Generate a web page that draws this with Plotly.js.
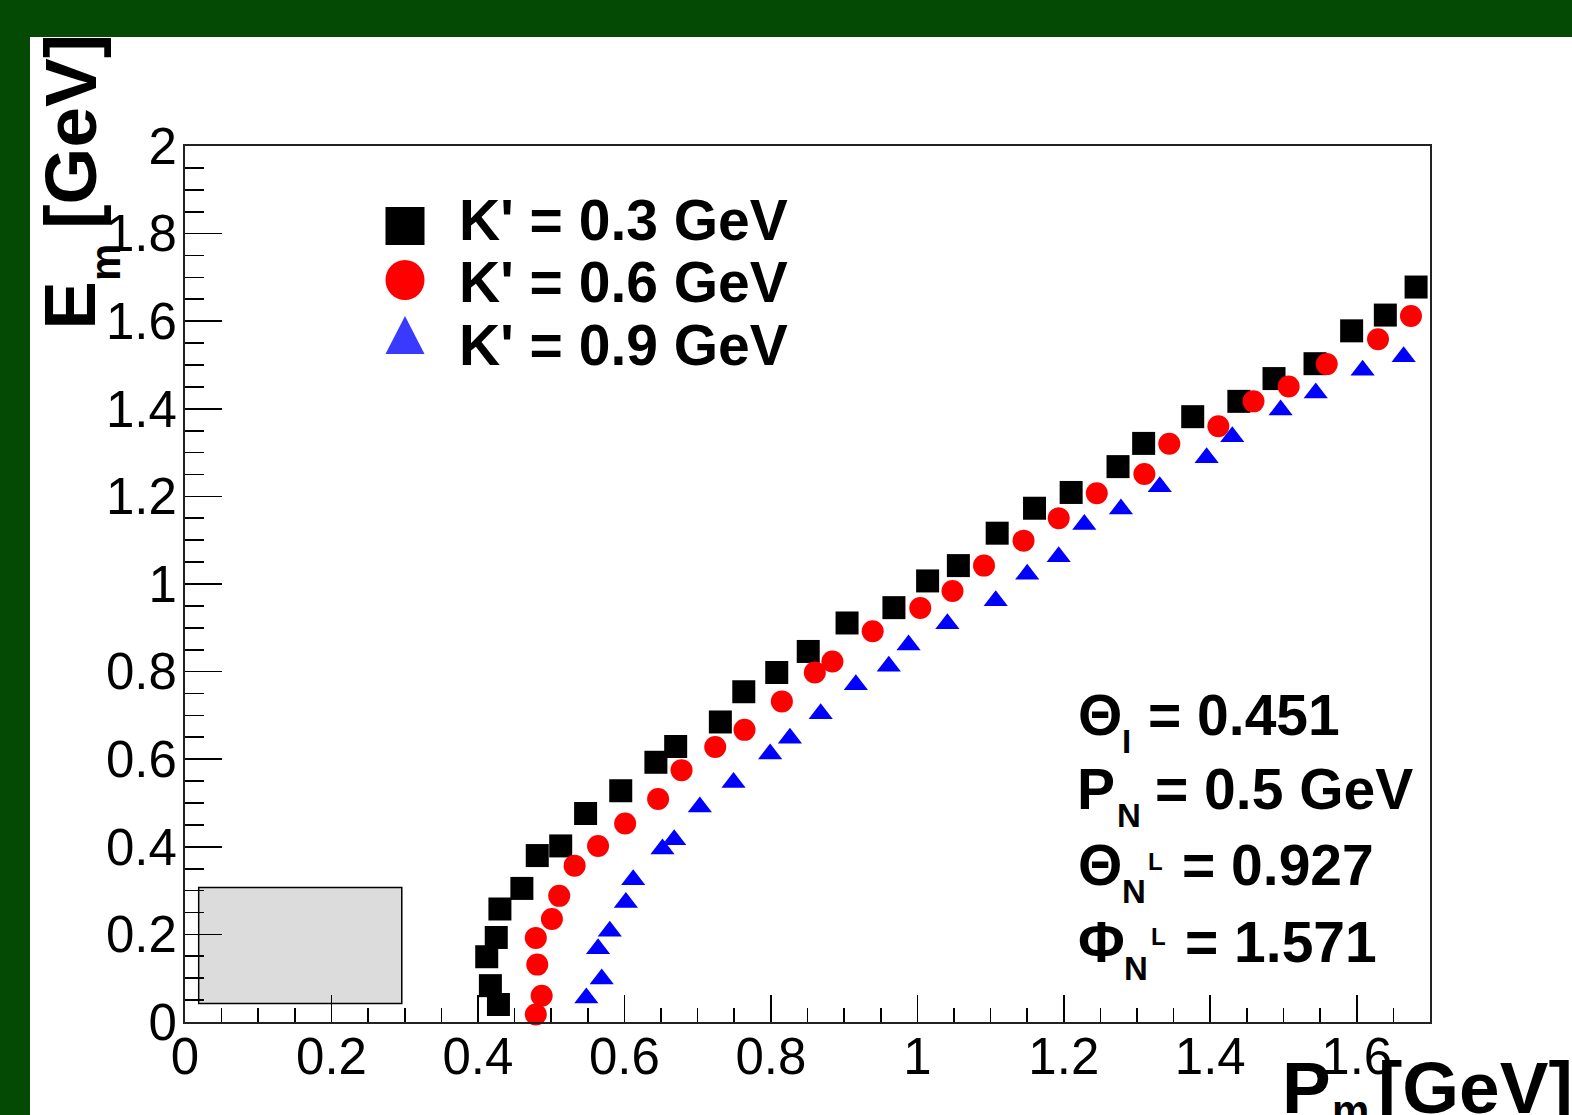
<!DOCTYPE html>
<html>
<head>
<meta charset="utf-8">
<script src="https://cdn.plot.ly/plotly-3.0.1.min.js"></script>
<style>
html,body{margin:0;padding:0;overflow:hidden;background:#044a04;}
#plot{width:1572px;height:1115px;}
</style>
</head>
<body>
<div id="plot"></div>
<script>
// ---------------- data ----------------
const seriesNames = ["K' = 0.3 GeV", "K' = 0.6 GeV", "K' = 0.9 GeV"];

const k03_x = [0.428,0.417,0.412,0.425,0.430,0.460,0.481,0.513,0.547,0.595,0.643,0.670,0.731,0.763,0.808,0.851,0.904,0.968,1.014,1.056,1.109,1.160,1.210,1.274,1.309,1.376,1.439,1.487,1.543,1.593,1.639,1.681];
const k03_y = [0.040,0.083,0.149,0.193,0.258,0.305,0.380,0.402,0.476,0.528,0.593,0.629,0.685,0.754,0.798,0.846,0.911,0.946,1.007,1.042,1.116,1.173,1.209,1.268,1.321,1.382,1.417,1.469,1.503,1.578,1.614,1.678];

const k06_x = [0.479,0.487,0.481,0.479,0.501,0.511,0.532,0.564,0.601,0.646,0.678,0.724,0.764,0.815,0.860,0.884,0.939,1.004,1.048,1.091,1.145,1.193,1.245,1.310,1.344,1.411,1.459,1.507,1.559,1.629,1.674];
const k06_y = [0.017,0.060,0.131,0.192,0.235,0.288,0.357,0.402,0.453,0.509,0.575,0.628,0.667,0.732,0.798,0.823,0.892,0.945,0.984,1.042,1.099,1.150,1.207,1.251,1.320,1.360,1.417,1.451,1.502,1.559,1.612];

const k09_x = [0.548,0.569,0.564,0.580,0.602,0.612,0.652,0.668,0.703,0.749,0.799,0.826,0.868,0.916,0.961,0.988,1.041,1.107,1.150,1.193,1.228,1.278,1.331,1.395,1.430,1.496,1.544,1.608,1.664];
const k09_y = [0.055,0.098,0.167,0.207,0.273,0.325,0.395,0.416,0.491,0.547,0.612,0.648,0.704,0.770,0.812,0.861,0.909,0.962,1.022,1.062,1.136,1.171,1.222,1.288,1.336,1.397,1.436,1.488,1.519];

const infoSymbols = ['\u0398', 'P', '\u0398', '\u03A6'];
const infoSubs    = ['I', 'N', 'N', 'N'];
const infoSups    = ['', '', 'L', 'L'];
const infoValues  = ['= 0.451', '= 0.5 GeV', '= 0.927', '= 1.571'];

const xTitleMain = 'P', xTitleSub = 'm', xTitleUnit = '[GeV]';
const yTitleMain = 'E', yTitleSub = 'm', yTitleUnit = '[GeV]';

// ---------------- layout helpers ----------------
const FONT = 'Liberation Sans, Arial, Helvetica, sans-serif';
const W = 1572, H = 1115, ML = 185, MR = 142, MT = 146, MB = 93;
const PW = W - ML - MR, PH = H - MT - MB;
const px2x = p => (p - ML) / PW;
const py2y = p => (H - MB - p) / PH;
const ASC = 0.3465; // offset from em-box centre to baseline (in em)

function txt(text, xPx, basePx, fs, extra) {
  return Object.assign({
    xref: 'paper', yref: 'paper',
    x: px2x(xPx), y: py2y(basePx - ASC * fs),
    xanchor: 'left', yanchor: 'middle',
    text: text, showarrow: false, borderpad: 0,
    font: {family: FONT, size: fs, color: '#000', weight: 'bold'}
  }, extra || {});
}
function vtxt(text, xcPx, ycPx, fs) {
  return {
    xref: 'paper', yref: 'paper',
    x: px2x(xcPx), y: py2y(ycPx),
    xanchor: 'center', yanchor: 'middle', textangle: -90,
    text: text, showarrow: false, borderpad: 0,
    font: {family: FONT, size: fs, color: '#000', weight: 'bold'}
  };
}

const markerCommon = {line: {width: 0}};
const traces = [
  {x: k03_x, y: k03_y, name: seriesNames[0], type: 'scatter', mode: 'markers', cliponaxis: false,
   marker: Object.assign({symbol: 'square', size: 23, color: '#000000'}, markerCommon)},
  {x: k06_x, y: k06_y, name: seriesNames[1], type: 'scatter', mode: 'markers', cliponaxis: false,
   marker: Object.assign({symbol: 'circle', size: 22, color: '#ff0000'}, markerCommon)},
  {x: k09_x, y: k09_y, name: seriesNames[2], type: 'scatter', mode: 'markers', cliponaxis: false,
   marker: Object.assign({symbol: 'triangle-up', size: 21, color: '#0000ff'}, markerCommon)}
];

// legend (drawn by hand, ROOT style)
const legendRows = [
  {mx: 405, my: 226, tb: 240},
  {mx: 405, my: 280, tb: 302},
  {mx: 405, my: 335, tb: 365}
];
const LEG_FS = 57;
const annotations = [];
seriesNames.forEach((n, i) => annotations.push(txt(n, 458, legendRows[i].tb, LEG_FS)));

// info block
const infoRows = [
  {base: 735, sym: 1077, sub: 1121, sup: null,  val: 1147},
  {base: 809, sym: 1076, sub: 1116, sup: null,  val: 1154},
  {base: 885, sym: 1077, sub: 1121, sup: 1147,  val: 1181},
  {base: 962, sym: 1077, sub: 1123, sup: 1150,  val: 1184}
];
const SUPBASE = [null, null, 870, 945];
infoRows.forEach((r, i) => {
  annotations.push(txt(infoSymbols[i], r.sym, r.base, 57));
  annotations.push(txt(infoSubs[i], r.sub, r.base + 18, 33));
  if (infoSups[i]) annotations.push(txt(infoSups[i], r.sup, SUPBASE[i], 24));
  annotations.push(txt(infoValues[i], r.val, r.base, 57));
});

// axis titles
annotations.push(vtxt(yTitleMain, 95 - ASC * 73, 305, 73));
annotations.push(vtxt(yTitleSub, 120 - ASC * 42, 262.5, 42));
annotations.push(vtxt(yTitleUnit, 95 - ASC * 73, 131, 73));
annotations.push(txt(xTitleMain, 1280.5, 1113, 73));
annotations.push(txt(xTitleSub, 1330.5, 1125, 42));
annotations.push(txt(xTitleUnit, 1377, 1113, 73));

const shapes = [
  // white pad
  {type: 'rect', xref: 'paper', yref: 'paper', layer: 'below',
   x0: px2x(30), x1: px2x(1600), y0: py2y(1140), y1: py2y(37),
   fillcolor: '#ffffff', line: {width: 0}},
  // grey empty box
  {type: 'rect', xref: 'x', yref: 'y', layer: 'between',
   x0: 0.0187, x1: 0.296, y0: 0.042, y1: 0.307,
   fillcolor: '#dcdcdc', line: {color: '#000', width: 1.5}},
  // legend markers
  {type: 'rect', xref: 'paper', yref: 'paper', xsizemode: 'pixel', ysizemode: 'pixel',
   xanchor: px2x(legendRows[0].mx), yanchor: py2y(legendRows[0].my),
   x0: -19.5, x1: 19.5, y0: -19, y1: 19, fillcolor: '#000', line: {width: 0}},
  {type: 'circle', xref: 'paper', yref: 'paper', xsizemode: 'pixel', ysizemode: 'pixel',
   xanchor: px2x(legendRows[1].mx), yanchor: py2y(legendRows[1].my),
   x0: -19.5, x1: 19.5, y0: -20, y1: 20, fillcolor: '#ff0000', line: {width: 0}},
  {type: 'path', xref: 'paper', yref: 'paper', xsizemode: 'pixel', ysizemode: 'pixel',
   xanchor: px2x(legendRows[2].mx), yanchor: py2y(legendRows[2].my),
   path: 'M-19.5,-19 L19.5,-19 L0,19 Z', fillcolor: '#3a3aff', line: {width: 0}}
];

const axisCommon = {
  showgrid: false, zeroline: false, showline: true, mirror: true,
  linecolor: '#222', linewidth: 2,
  ticks: 'inside', tickcolor: '#000', tickwidth: 1.6,
  tickfont: {family: FONT, size: 51, color: '#000'},
  tick0: 0, dtick: 0.2, fixedrange: true
};

const layout = {
  width: W, height: H,
  margin: {l: ML, r: MR, t: MT, b: MB, pad: 0},
  paper_bgcolor: '#044a04', plot_bgcolor: '#ffffff',
  showlegend: false,
  xaxis: Object.assign({}, axisCommon, {
    range: [0, 1.7], ticklen: 27, ticklabelstandoff: -11,
    minor: {dtick: 0.05, ticklen: 14, ticks: 'inside', tickwidth: 1.6, tickcolor: '#000', showgrid: false}
  }),
  yaxis: Object.assign({}, axisCommon, {
    range: [0, 2], ticklen: 37, ticklabelstandoff: -4,
    minor: {dtick: 0.05, ticklen: 19, ticks: 'inside', tickwidth: 1.6, tickcolor: '#000', showgrid: false}
  }),
  shapes: shapes,
  annotations: annotations
};

Plotly.newPlot('plot', traces, layout, {staticPlot: true, displayModeBar: false});
</script>
</body>
</html>
